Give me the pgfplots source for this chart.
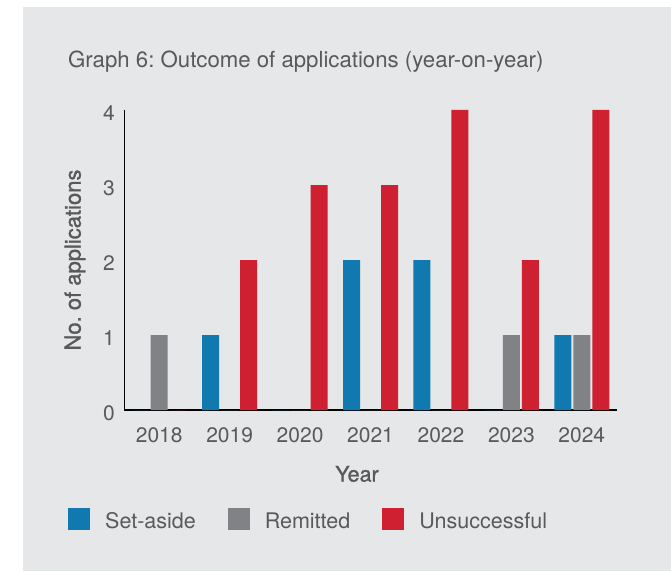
\documentclass[border=0pt]{standalone}
\usepackage{pgfplots}
\pgfplotsset{compat=1.18}
\usepackage{fontspec}
\setmainfont{TeX Gyre Heros}
\newfontfamily\medfont[FakeBold=1.2]{TeX Gyre Heros}
\definecolor{bggrey}{HTML}{E6E7E8}
\definecolor{txtgrey}{HTML}{58595B}
\definecolor{cblue}{HTML}{107AB0}
\definecolor{cgrey}{HTML}{808285}
\definecolor{cred}{HTML}{CE2031}
\begin{document}
\frenchspacing
\begin{tikzpicture}[x=1pt,y=1pt]
\fill[white] (0,0) rectangle (671,571);
\fill[bggrey] (23,0) rectangle (671,564);
\begin{axis}[
  at={(124pt,161pt)}, anchor=south west,
  scale only axis, width=493pt, height=300pt,
  ybar=2pt, bar width=17pt,
  xmin=-0.5, xmax=6.5, ymin=0, ymax=4,
  xtick={0,1,2,3,4,5,6},
  xticklabels={2018,2019,2020,2021,2022,2023,2024},
  ytick={0,1,2,3,4},
  major tick length=0pt,
  axis x line*=bottom, axis y line*=left,
  x axis line style={line width=1.8pt, black, -},
  y axis line style={line width=1pt, black, -},
  /pgf/number format/assume math mode=true,
  tick label style={font=\fontsize{21}{24}\selectfont, text=txtgrey},
  yticklabel style={anchor=east, inner sep=0pt, xshift=-9pt, yshift=-3.5pt},
  xticklabel style={anchor=north, inner sep=0pt, yshift=-17pt},
  title={Graph 6: Outcome of applications (year-on-year)},
  title style={at={(axis description cs:-0.1136,1.14)}, anchor=west, inner sep=0pt,
    font=\fontsize{22.2}{26}\selectfont, text=txtgrey},
  ylabel={No. of applications},
  ylabel style={at={(axis description cs:-0.0994,0.5)}, anchor=center, inner sep=0pt,
    font=\fontsize{22}{24}\medfont, text=txtgrey},
  xlabel={Year},
  xlabel style={at={(axis description cs:0.4726,-0.213)}, anchor=center, inner sep=0pt,
    font=\fontsize{21.5}{24}\medfont, text=txtgrey},
  legend columns=3,
  legend image code/.code={\fill[#1] (0pt,-8.3pt) rectangle (22pt,13.7pt);},
  legend style={at={(axis description cs:-0.1136,-0.363)}, anchor=west,
    draw=none, fill=none, inner sep=0pt,
    font=\fontsize{21.5}{24}\selectfont, text=txtgrey,
    nodes={inner sep=0pt},
    /tikz/every odd column/.append style={column sep=15pt},
    /tikz/every even column/.append style={column sep=32pt}},
]
\addplot[fill=cblue, draw=none] coordinates {(0,0) (1,1) (2,0) (3,2) (4,2) (5,0) (6,1)};
\addplot[fill=cgrey, draw=none] coordinates {(0,1) (1,0) (2,0) (3,0) (4,0) (5,1) (6,1)};
\addplot[fill=cred, draw=none] coordinates {(0,0) (1,2) (2,3) (3,3) (4,4) (5,2) (6,4)};
\legend{Set-aside, Remitted, Unsuccessful}
\end{axis}
\end{tikzpicture}
\end{document}
